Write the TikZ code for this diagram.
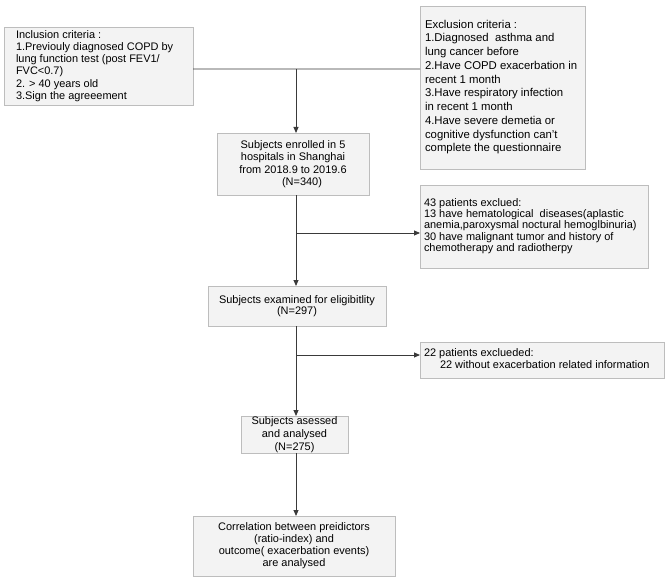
\documentclass[tikz,border=0pt]{standalone}
\usepackage{fontspec}
\setmainfont{Liberation Sans}
\usetikzlibrary{arrows.meta}
\definecolor{boxfill}{HTML}{F3F3F3}
\definecolor{boxline}{HTML}{BDBDBD}
\definecolor{connc}{HTML}{3A3A3A}
\tikzset{
  box/.style={draw=boxline, fill=boxfill, line width=0.8bp, inner sep=0pt, outer sep=0pt},
  txt/.style={inner sep=0pt, outer sep=0pt, align=left, anchor=west},
  ctxt/.style={align=center},
  conn/.style={draw=connc, line width=0.9bp},
  arr/.style={conn, -{Triangle[length=6bp,width=5bp]}},
}
\begin{document}
\begin{tikzpicture}[x=1bp,y=-1bp]
\useasboundingbox (0,0) rectangle (669,578);
\coordinate (spine) at (296,0);
% inclusion
\node[box, minimum width=189bp, minimum height=78bp] (inc) at (98.5,66) {};
\node[txt, font=\fontsize{11}{12.3}\selectfont] (inct) at (16,66) {Inclusion criteria :\\1.Previouly diagnosed COPD by\\lung function test (post FEV1/\\FVC<0.7)\\2. > 40 years old\\3.Sign the agreeement};
% exclusion
\node[box, minimum width=165bp, minimum height=163bp] (exc) at (502.5,87.5) {};
\node[txt, font=\fontsize{11.4}{13.8}\selectfont] (exct) at (425,87) {Exclusion criteria~:\\1.Diagnosed\ \ asthma and\\lung cancer before\\2.Have COPD exacerbation in\\recent 1 month\\3.Have respiratory infection\\in recent 1 month\\4.Have severe demetia or\\cognitive dysfunction can’t\\complete the questionnaire};
% enrolled
\node[box, ctxt, minimum width=152bp, minimum height=62bp, font=\fontsize{11}{12.5}\selectfont] (enr) at (293,164) {Subjects enrolled in 5\\hospitals in Shanghai\\from 2018.9 to 2019.6\\\hspace*{18bp}(N=340)};
% 43 excluded
\node[box, minimum width=228bp, minimum height=83bp] (ex43) at (534,226.5) {};
\node[txt, font=\fontsize{11}{10.2}\selectfont] (ex43t) at (424,226) {43 patients exclued:\\13 have hematological\ \ diseases(aplastic\\anemia,paroxysmal noctural hemoglbinuria)\\30 have malignant tumor and history of\\chemotherapy and radiotherpy};
% eligibility
\node[box, ctxt, minimum width=178bp, minimum height=40bp, font=\fontsize{11}{11.7}\selectfont] (elig) at (297,306) {Subjects examined for eligibitlity\\(N=297)};
% 22 excluded
\node[box, minimum width=244bp, minimum height=36bp] (ex22) at (542,360) {};
\node[txt, font=\fontsize{11}{12}\selectfont] (ex22t) at (424,359) {22 patients exclueded:\\\hspace*{16bp}22 without exacerbation related information};
% assessed
\node[box, ctxt, minimum width=107bp, minimum height=37bp, font=\fontsize{11}{13}\selectfont] (ass) at (294.5,434.5) {Subjects asessed\\and analysed\\(N=275)};
% correlation
\node[box, ctxt, minimum width=202bp, minimum height=60bp, font=\fontsize{11}{12}\selectfont] (cor) at (294,546) {Correlation between preidictors\\(ratio-index) and\\outcome( exacerbation events)\\are analysed};
% connectors
\coordinate (j1) at (296,69);
\draw[conn] ([yshift=-3bp]inc.east) -- (j1 -| exc.west);
\draw[arr] (j1) -- (j1 |- enr.north);
\draw[arr] (enr.south -| spine) -- (elig.north -| spine);
\coordinate (b1) at (296,233);
\draw[arr] (b1) -- (b1 -| ex43.west);
\draw[arr] (elig.south -| spine) -- (ass.north -| spine);
\coordinate (b2) at (296,355);
\draw[arr] (b2) -- (b2 -| ex22.west);
\draw[arr] (ass.south -| spine) -- (cor.north -| spine);
\end{tikzpicture}
\end{document}
